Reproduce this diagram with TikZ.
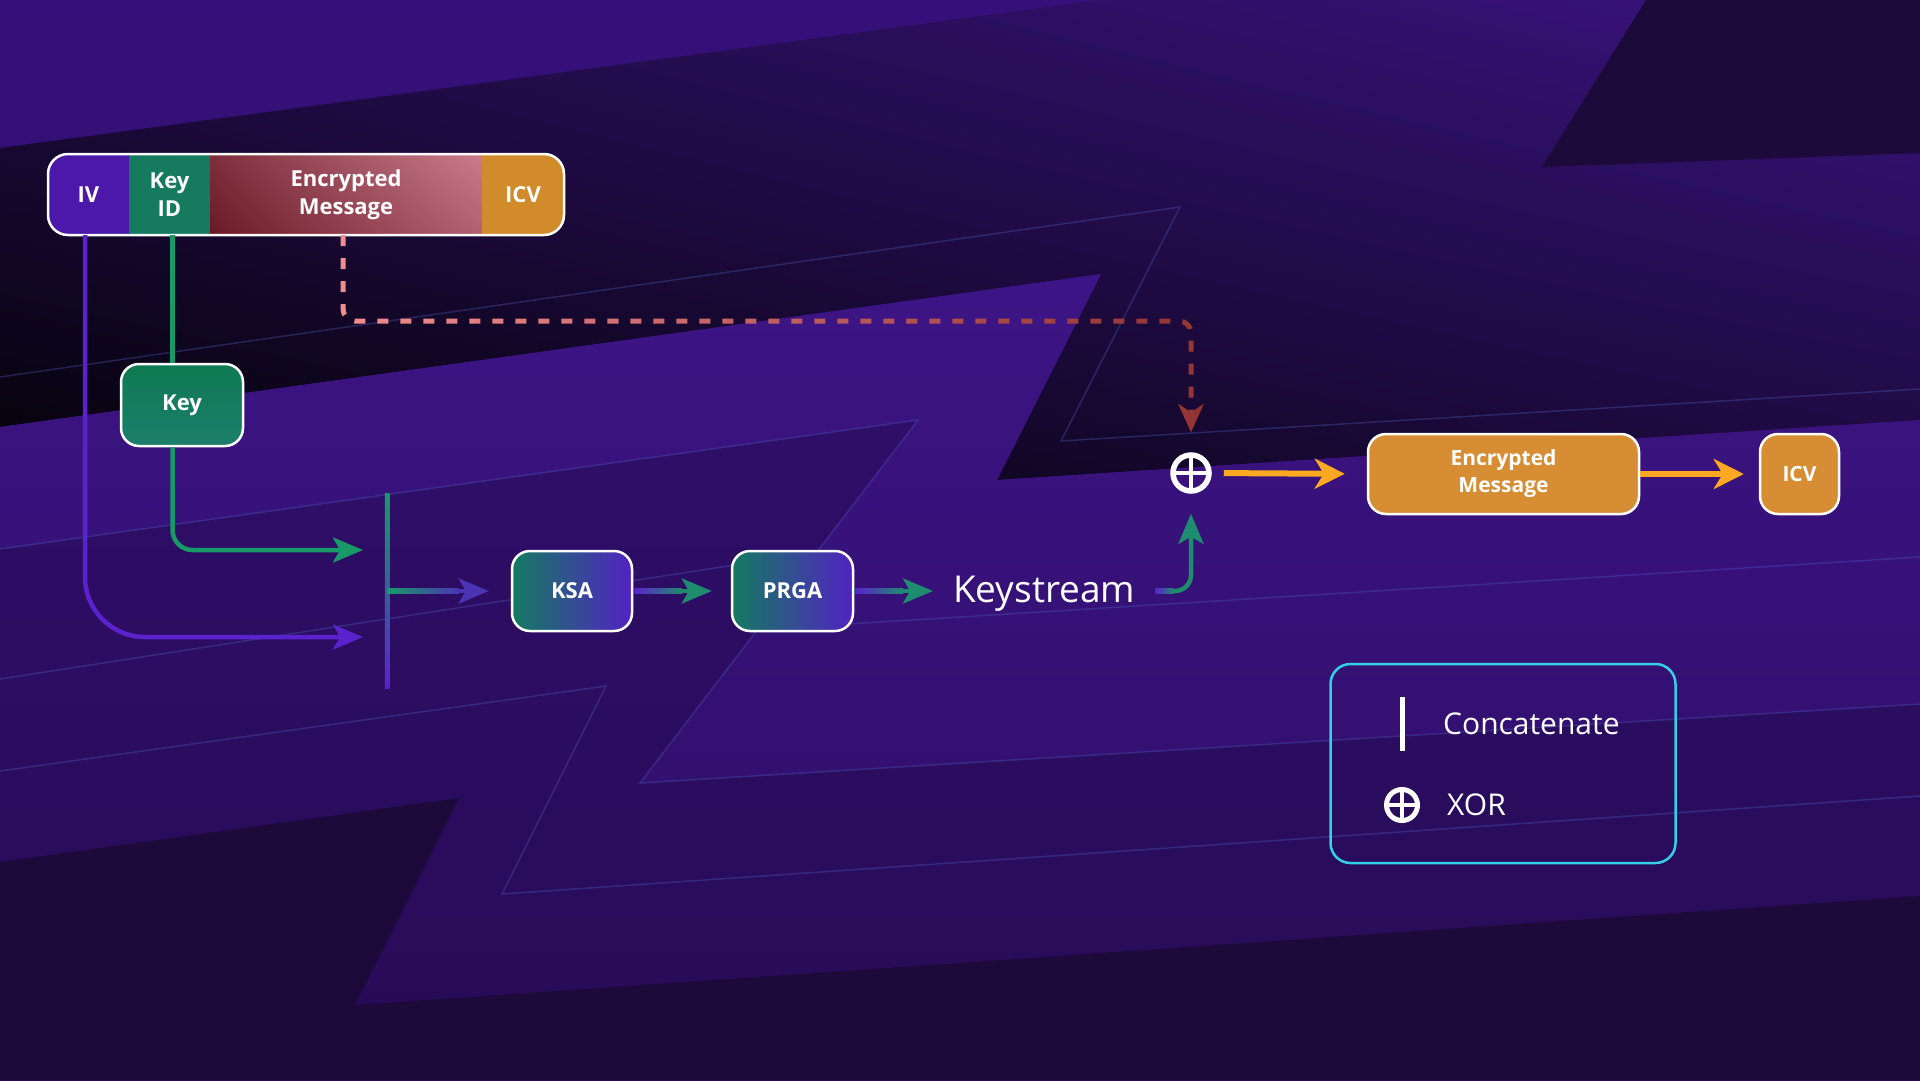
\documentclass[tikz,border=0pt]{standalone}
\usepackage{fontspec}
\setmainfont{Open Sans}
\usetikzlibrary{arrows.meta,calc,shadings}
\definecolor{bgA}{HTML}{36107A}
\definecolor{bgB}{HTML}{2A0C5A}
\definecolor{bandUL}{HTML}{1E0B42}
\definecolor{bandLL}{HTML}{050209}
\definecolor{bandUR}{HTML}{3A1380}
\definecolor{bandLR}{HTML}{1C0A3E}
\definecolor{dkpoly}{HTML}{1C0A3A}
\definecolor{brA}{HTML}{3D1486}
\definecolor{brB}{HTML}{2C0D62}
\definecolor{zA}{HTML}{2F0E68}
\definecolor{zB}{HTML}{270B56}
\definecolor{faint}{HTML}{5064C8}
\definecolor{ivc}{HTML}{4B18AA}
\definecolor{kidc}{HTML}{167A5E}
\definecolor{icvc}{HTML}{D18B2A}
\definecolor{emdark}{HTML}{6A1A26}
\definecolor{emmidA}{HTML}{7E2E3C}
\definecolor{emmidB}{HTML}{B06070}
\definecolor{emlight}{HTML}{CA7C8A}
\definecolor{keyA}{HTML}{0F7A52}
\definecolor{keyB}{HTML}{1B7E6C}
\definecolor{lgreen}{HTML}{179A68}
\definecolor{lpurple}{HTML}{5A22CC}
\definecolor{bluep}{HTML}{4A34B4}
\definecolor{tealg}{HTML}{1E8C6E}
\definecolor{boxteal}{HTML}{157A62}
\definecolor{boxpurp}{HTML}{5222C2}
\definecolor{orng}{HTML}{FFA922}
\definecolor{obox}{HTML}{D78D33}
\definecolor{cyanb}{HTML}{33D0E6}
\definecolor{dpink}{HTML}{F08C8E}
\definecolor{dred}{HTML}{8C2E2C}
\begin{document}
\begin{tikzpicture}[x=1pt,y=-1pt,
  lbl/.style={text=white,align=center,font=\fontsize{22}{28}\selectfont\bfseries},
  seg/.style={lbl,inner sep=0pt,minimum height=81pt},
  flowbox/.style={lbl,draw=white,line width=2.5pt,rounded corners=18pt,inner sep=0pt,minimum width=120pt,minimum height=80pt},
  plain/.style={text=white,inner sep=0pt,anchor=west},
  xorsym/.style={circle,draw=white,line width=5.5pt,minimum size=36pt,inner sep=0pt,
     path picture={\draw[white,line width=4pt] (path picture bounding box.north) -- (path picture bounding box.south)
        (path picture bounding box.west) -- (path picture bounding box.east);}},
  ln/.style={line width=4.5pt},
  tipG/.style={-{Stealth[length=30pt,width=25pt,inset=7pt]}},
  tipO/.style={-{Stealth[length=30pt,width=30pt,inset=9pt]}},
  faintln/.style={draw=faint,draw opacity=0.32,line width=1.5pt},
  dashln/.style={line width=5pt,dash pattern=on 11pt off 12pt,rounded corners=12pt,
     -{Stealth[length=28pt,width=25pt,inset=8pt]},shorten >=20pt},
]
\useasboundingbox (0,0) rectangle (1920,1080);
% ---------- background ----------
\shade[top color=bgA,bottom color=bgB] (0,0) rectangle (1920,1080);
\shade[upper left=bandUL,lower left=bandLL,upper right=bandUR,lower right=bandLR]
  (0,148) -- (1100,0) -- (1920,0) -- (1920,420) -- (997,480) -- (1101,274) -- (0,427) -- cycle;
\fill[dkpoly] (1646,0) -- (1920,0) -- (1920,153) -- (1542,167) -- cycle;
\shade[top color=brA,bottom color=brB]
  (0,427) -- (1101,274) -- (997,480) -- (1920,420) -- (1920,1080) -- (0,1080) -- cycle;
\shade[top color=zA,bottom color=zB]
  (0,549) -- (918,420) -- (640,783) -- (1920,704) -- (1920,1080) -- (0,1080) -- cycle;
\fill[dkpoly] (0,862) -- (459,798) -- (355,1005) -- (1920,896) -- (1920,1080) -- (0,1080) -- cycle;
\draw[faintln] (0,377) -- (1180,207) -- (1061,441) -- (1920,389);
\draw[faintln] (0,549) -- (918,420) -- (640,783) -- (1920,704);
\draw[faintln] (0,771) -- (606,686) -- (502,894) -- (1920,796);
\draw[faintln] (0,679) -- (760,561);
\draw[faintln] (800,627) -- (1920,557);

% ---------- packet bar ----------
\begin{scope}
  \clip[rounded corners=20pt] (48,154) rectangle (564,235);
  \fill[ivc] (48,154) rectangle (129,235);
  \fill[kidc] (129,154) rectangle (210,235);
  \shade[lower left=emdark,upper left=emmidA,lower right=emmidB,upper right=emlight] (210,154) rectangle (482,235);
  \fill[icvc] (482,154) rectangle (564,235);
\end{scope}
\draw[white,line width=2.5pt,rounded corners=20pt] (48,154) rectangle (564,235);
\node[seg,minimum width=81pt] (iv) at (88.5,194.5) {IV};
\node[seg,minimum width=81pt] (keyid) at (169.5,194.5) {Key\\ID};
\node[seg,minimum width=272pt] (em) at (346,194.5) {Encrypted\\Message};
\node[seg,minimum width=82pt] (icv) at (523,194.5) {ICV};

% ---------- nodes ----------
\node[flowbox,top color=keyA,bottom color=keyB,minimum width=122pt,minimum height=82pt] (key) at (182,405) {Key};
\node[inner sep=0pt,minimum width=4.5pt,minimum height=195pt,top color=lgreen,bottom color=lpurple] (cat) at (387,590.5) {};
\node[flowbox,left color=boxteal,right color=boxpurp] (ksa) at (572,591) {KSA};
\node[flowbox,left color=boxteal,right color=boxpurp,minimum width=121pt] (prga) at (792.5,591) {PRGA};
\node[plain,font=\fontsize{37}{42}\selectfont] (ks) at (953,594) {Keystream};
\node[xorsym] (xor) at (1191,473) {};
\node[flowbox,fill=obox,minimum width=271pt,minimum height=80pt,font=\fontsize{21}{27}\selectfont\bfseries] (emb) at (1503.5,474) {Encrypted\\Message};
\node[flowbox,fill=obox,minimum width=79pt,minimum height=80pt,font=\fontsize{21}{27}\selectfont\bfseries] (icvb) at (1799.5,474) {ICV};

% ---------- connectors ----------
\coordinate (ivx) at ([xshift=-3.5pt]iv.south);
\coordinate (kidx) at ([xshift=3pt]keyid.south);
\coordinate (emx) at ([xshift=-3pt]em.south);
\coordinate (ivin) at (363,637);
\coordinate (keyin) at (363,550);
\coordinate (dashrow) at (0,321);

\draw[ln,lpurple,tipG,rounded corners=60pt] (ivx) |- (ivin);
\draw[ln,lgreen] (kidx) -- (kidx |- key.north);
\draw[ln,lgreen,tipG,rounded corners=20pt] (kidx |- key.south) |- (keyin);

\coordinate (catout) at (cat.east |- ksa.west);
\draw[ln,bluep,tipG,shorten >=22pt] (catout) -- (ksa.west);
\shade[left color=lgreen,right color=bluep] ($(catout)+(-2,-2.25)$) rectangle ($(ksa.west)+(-52,2.25)$);

\draw[ln,tealg,tipG,shorten >=19pt] (ksa.east) -- (prga.west);
\shade[left color=lpurple,right color=tealg] ($(ksa.east)+(1,-2.25)$) rectangle ($(prga.west)+(-49,2.25)$);

\coordinate (ksin) at (ks.west |- prga.east);
\draw[ln,tealg,tipG,shorten >=20pt] (prga.east) -- (ksin);
\shade[left color=lpurple,right color=tealg] ($(prga.east)+(1,-2.25)$) rectangle ($(ksin)+(-50,2.25)$);

\coordinate (ksout) at ([xshift=20pt]ks.east |- prga.east);
\draw[ln,tealg,tipG,rounded corners=16pt,shorten >=20pt] (ksout) -| (xor.south);
\shade[left color=lpurple,right color=tealg] ($(ksout)+(0,-2.25)$) rectangle ($(ksout)+(18,2.25)$);

\foreach \i in {0,...,24}{
  \pgfmathtruncatemacro\pc{100-4*\i}
  \begin{scope}
    \clip (330+\i*36,220) rectangle (366.5+\i*36,460);
    \draw[dashln,draw=dpink!\pc!dred] (emx) -- (emx |- dashrow) -- (xor.north |- dashrow) -- (xor.north);
  \end{scope}
}

\draw[line width=6pt,orng,tipO,shorten <=12pt,shorten >=22pt] (xor.east) -- (emb.west);
\draw[line width=6pt,orng,tipO,shorten >=15pt] (emb.east) -- (icvb.west);

% ---------- legend ----------
\node[draw=cyanb,line width=2.5pt,rounded corners=20pt,minimum width=345pt,minimum height=199pt,inner sep=0pt] (legend) at (1503,763.5) {};
\node[fill=white,inner sep=0pt,minimum width=5pt,minimum height=54pt] (legcat) at (1402,724) {};
\node[plain,font=\fontsize{30}{35}\selectfont] (legcattxt) at (1443,724) {Concatenate};
\node[xorsym,line width=5pt,minimum size=31pt] (legxor) at (1402,805) {};
\node[plain,font=\fontsize{30}{35}\selectfont] (legxortxt) at (1447,805) {XOR};
\end{tikzpicture}
\end{document}
